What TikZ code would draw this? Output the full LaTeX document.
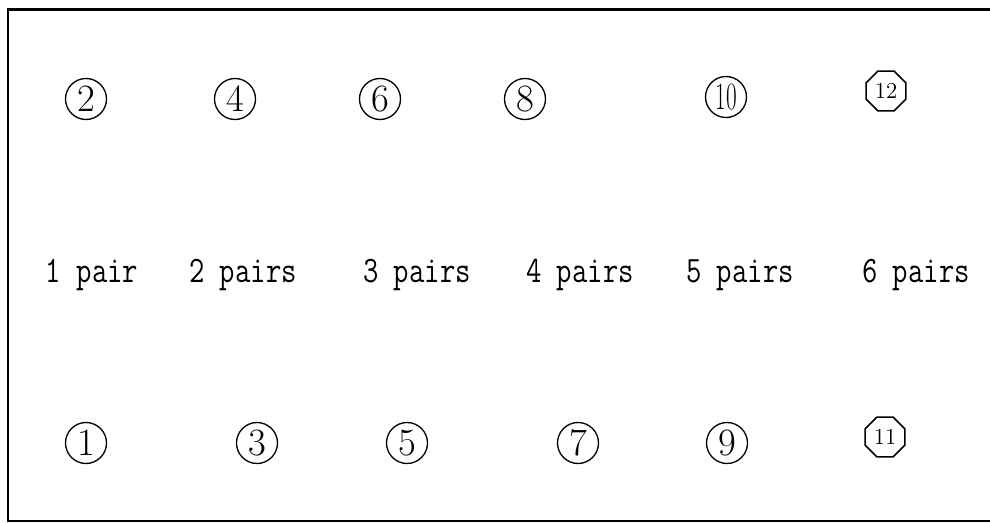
\documentclass[tikz,border=0pt]{standalone}
\usepackage{graphicx}
\usetikzlibrary{shapes.geometric}

\tikzset{
  nummer/.style={circle, draw, line width=0.75pt, minimum size=0.82cm, inner sep=0pt,
    font=\fontsize{22}{22}\selectfont},
  achteck/.style={regular polygon, regular polygon sides=8, draw, line width=0.9pt,
    minimum size=0.86cm, inner sep=0pt, font=\fontsize{13}{13}\selectfont},
  paare/.style={anchor=base, inner sep=0pt, font=\ttfamily\fontsize{17}{17}\selectfont}
}

% etwas hoeher gesetzter Text
\newcommand{\paar}[1]{\scalebox{1}[1.25]{#1}}

\begin{document}
\begin{tikzpicture}[x=0.02cm,y=-0.02cm]

% Grenzen (in Pixeln)
\def\breite{990}
\def\hoehe{523}

\useasboundingbox (0,0) rectangle (\breite,\hoehe);

% Rahmen (rechts offen)
\draw[line width=1.2pt] (\breite,9.5) -- (7.7,9.5) -- (7.7,521) -- (\breite,521);

% ------------------- Obere Reihe -------------------
\foreach \n/\x in {2/86,4/235,6/380,8/525}
  \node[nummer] (o\n) at (\x,99) {\n};
\node[nummer] (o10) at (726,97) {\scalebox{0.6}[1]{10}};
\node[achteck] (o12) at (886,91) {12};

% ------------------- Mittlere Reihe -------------------
\node[paare] (p1) at (92,283) {\paar{1 pair}};
\foreach \k/\x in {2/243,3/417,4/580,5/740,6/916}
  \node[paare] (p\k) at (\x,283) {\paar{\k{} pairs}};

% ------------------- Untere Reihe -------------------
\foreach \n/\x in {1/86,3/257,5/407,7/578,9/727}
  \node[nummer] (u\n) at (\x,443) {\n};
\node[achteck] (u11) at (885,437) {11};

\end{tikzpicture}
\end{document}
